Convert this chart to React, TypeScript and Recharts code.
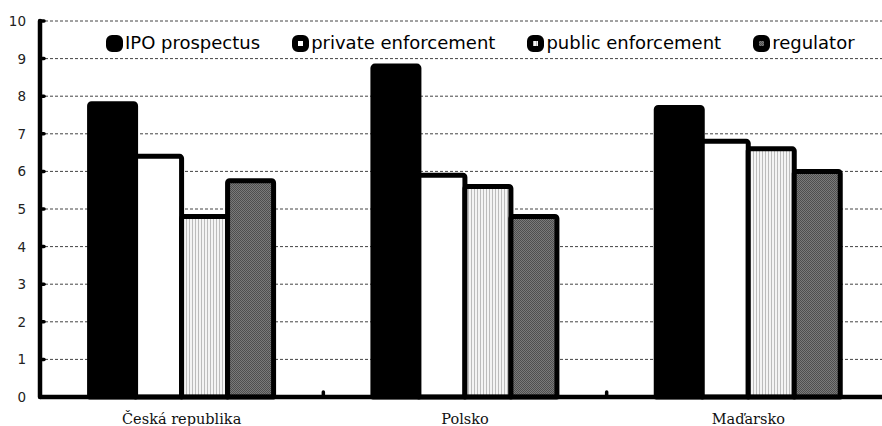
import { BarChart, Bar, XAxis, YAxis, CartesianGrid, Legend } from 'recharts';

const categories = ['Česká republika', 'Polsko', 'Maďarsko'];
const ipoProspectus = [7.8, 8.8, 7.7];
const privateEnforcement = [6.4, 5.9, 6.8];
const publicEnforcement = [4.8, 5.6, 6.6];
const regulatorScores = [5.75, 4.8, 6.0];
const yTicks = [0, 1, 2, 3, 4, 5, 6, 7, 8, 9, 10];

const series = [
    { key: 'ipo', name: 'IPO prospectus', fill: '#000000' },
    { key: 'privateEnf', name: 'private enforcement', fill: '#ffffff' },
    { key: 'publicEnf', name: 'public enforcement', fill: 'url(#stripes)' },
    { key: 'regulator', name: 'regulator', fill: 'url(#dither)' },
];

const data = categories.map((name, i) => ({
    name,
    ipo: ipoProspectus[i],
    privateEnf: privateEnforcement[i],
    publicEnf: publicEnforcement[i],
    regulator: regulatorScores[i],
}));

const CHART_W = 892;
const CHART_H = 426;
const Y_AXIS_W = 40;
const X_AXIS_H = 29;
const MARGIN = { top: 21, right: 2, left: 0, bottom: 0 };
const BAND_HALF = (CHART_W - Y_AXIS_W - MARGIN.right) / categories.length / 2;

// eslint-disable-next-line @typescript-eslint/no-explicit-any
const YTick = ({ x, y, payload }: any) => (
    <g>
        <text x={x} y={y} textAnchor="end" dominantBaseline="central"
            fontFamily="DejaVu Sans" fontSize={13.5} fill="#222">
            {payload.value}
        </text>
        <line x1={Y_AXIS_W} x2={Y_AXIS_W + 4} y1={y} y2={y} stroke="#000" strokeWidth={3.5} strokeLinecap="round" />
    </g>
);

// category names sit low, baseline near the bottom edge; short marks split the groups
// eslint-disable-next-line @typescript-eslint/no-explicit-any
const XTick = ({ x, y, payload, index }: any) => (
    <g>
        <text x={x} y={y + 26.5} textAnchor="middle"
            fontFamily="DejaVu Serif" fontSize={14.5} fill="#111">
            {payload.value}
        </text>
        {index < categories.length - 1 && (
            <line x1={x + BAND_HALF} x2={x + BAND_HALF} y1={y - 5} y2={y}
                stroke="#000" strokeWidth={3.5} strokeLinecap="round" />
        )}
    </g>
);

const LegendContent = () => (
    <div style={{ display: 'flex', gap: 32, alignItems: 'center', fontFamily: 'DejaVu Sans', fontSize: 18, lineHeight: '20px', color: '#000', whiteSpace: 'nowrap' }}>
        {series.map((s) => (
            <div key={s.key} style={{ display: 'flex', alignItems: 'center' }}>
                <svg width={17} height={17} style={{ marginRight: 2 }}>
                    <rect x={3} y={3} width={11} height={11} rx={3} fill={s.fill} stroke="#000" strokeWidth={6} />
                </svg>
                <span>{s.name}</span>
            </div>
        ))}
    </div>
);

export default function App() {
    return (
        <div style={{ position: 'absolute', top: 0, left: 0, width: 882, height: 426, overflow: 'hidden', background: '#fff' }}>
            <BarChart width={CHART_W} height={CHART_H} data={data} margin={MARGIN} barCategoryGap="17.5%" barGap={0}>
                <defs>
                    <pattern id="stripes" width={3} height={4} patternUnits="userSpaceOnUse">
                        <rect width={3} height={4} fill="#f4f4f4" />
                        <rect width={1} height={4} fill="#bcbcbc" />
                    </pattern>
                    <pattern id="dither" width={2} height={2} patternUnits="userSpaceOnUse">
                        <rect width={2} height={2} fill="#7a7a7a" />
                        <rect width={1} height={1} fill="#4e4e4e" />
                        <rect x={1} y={1} width={1} height={1} fill="#4e4e4e" />
                    </pattern>
                </defs>
                <CartesianGrid vertical={false} stroke="#444" strokeDasharray="3 2" />
                <XAxis dataKey="name" height={X_AXIS_H} tickLine={false} tickSize={0} tickMargin={0}
                    axisLine={{ stroke: '#000', strokeWidth: 4.5 }} tick={<XTick />} interval={0} />
                <YAxis width={Y_AXIS_W} domain={[0, 10]} ticks={yTicks} tickLine={false} tickSize={0} tickMargin={14}
                    axisLine={{ stroke: '#000', strokeWidth: 4.5, strokeLinecap: 'round' }} tick={<YTick />} />
                <Legend layout="horizontal" verticalAlign="middle" align="center" content={<LegendContent />}
                    wrapperStyle={{ top: 33, left: 106, width: 'auto' }} />
                {series.map((s) => (
                    <Bar key={s.key} dataKey={s.key} name={s.name} fill={s.fill} stroke="#000" strokeWidth={5}
                        strokeLinejoin="round" radius={[2, 2, 0, 0]} isAnimationActive={false} />
                ))}
            </BarChart>
        </div>
    );
}
